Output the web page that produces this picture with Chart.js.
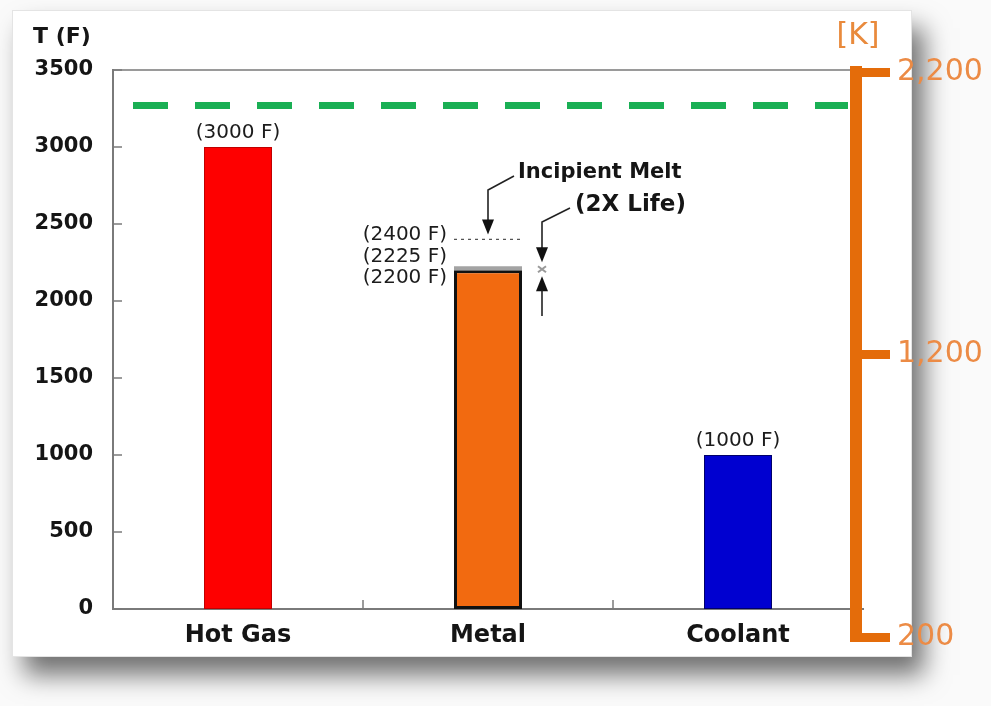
<!DOCTYPE html>
<html>
<head>
<meta charset="utf-8">
<script src="https://cdn.jsdelivr.net/npm/chart.js@4.4.1/dist/chart.umd.min.js"></script>
<style>
  html, body { margin:0; padding:0; background:#fafafa; }
  #wrap { position:relative; width:991px; height:706px; overflow:hidden; }
  #card {
    position:absolute; left:12px; top:10px; width:900px; height:647px;
    background:#fff; border:1px solid #e4e4e4; box-sizing:border-box;
    box-shadow:12px 18px 24px rgba(0,0,0,0.55);
  }
  canvas { position:absolute; left:0; top:0; }
</style>
</head>
<body>
<div id="wrap">
  <div id="card"></div>
  <canvas id="chart" width="991" height="706"></canvas>
  <canvas id="kchart" width="991" height="706"></canvas>
</div>
<script>
// ================= DATA =================
const categories = ["Hot Gas", "Metal", "Coolant"];
const tempF = [3000, 2200, 1000];          // bar heights (F)
const coatingF = [0, 25, 0];               // grey cap on metal: 2200 -> 2225
const barLabels = ["(3000 F)", "", "(1000 F)"];
const meltF = 2400;                        // incipient melt
const limitF = 3270;                       // green dashed line
const yTicksF = { min: 0, max: 3500, step: 500 };
const kelvinTicks = { min: 200, max: 2200, step: 1000 };

const barColors = ["#fe0000", "#f26a10", "#0000d0"];
const barBorders = ["#c00000", "#111111", "#00006a"];
const FONT = "'DejaVu Sans', sans-serif";
const INK = "#151515";
const ORANGE = "#e46c0a";

// ================= HELPERS =================
function line(ctx, pts){
  ctx.beginPath();
  ctx.moveTo(pts[0][0], pts[0][1]);
  pts.slice(1).forEach(p => ctx.lineTo(p[0], p[1]));
  ctx.stroke();
}
function head(ctx, x, tip, dir){   // dir 1 = points down, -1 = points up
  const h = 15, w = 6;
  ctx.beginPath();
  ctx.moveTo(x, tip);
  ctx.lineTo(x - w, tip - dir*h);
  ctx.lineTo(x + w, tip - dir*h);
  ctx.closePath();
  ctx.fill();
}
function text(ctx, str, x, y, font, color, align){
  ctx.font = font;
  ctx.fillStyle = color;
  ctx.textAlign = align || "center";
  ctx.textBaseline = "middle";
  ctx.fillText(str, x, y);
}

// ================= ANNOTATIONS =================
const markup = {
  id: "markup",
  afterDatasetsDraw(chart){
    const {ctx, chartArea: a, scales: {x, y}} = chart;
    const bars = chart.getDatasetMeta(0).data;
    ctx.save();

    // inner tick marks
    ctx.strokeStyle = "#7a7a7a"; ctx.lineWidth = 1.5;
    y.ticks.forEach(t => {
      const py = y.getPixelForValue(t.value);
      line(ctx, [[a.left, py], [a.left + 9, py]]);
    });
    for(let i = 1; i < categories.length; i++){
      const px = (x.getPixelForValue(i-1) + x.getPixelForValue(i)) / 2;
      line(ctx, [[px, a.bottom], [px, a.bottom - 9]]);
    }

    // green limit line
    const gy = y.getPixelForValue(limitF);
    ctx.strokeStyle = "#1aaf54"; ctx.lineWidth = 7;
    ctx.setLineDash([35, 27]);
    line(ctx, [[a.left + 20, gy], [a.right - 15, gy]]);
    ctx.setLineDash([]);

    // value labels above bars
    bars.forEach((b, i) => {
      if(barLabels[i]) text(ctx, barLabels[i], b.x, b.y - 14, "20px " + FONT, "#1c1c1c");
    });

    // metal details
    const m = bars[1];
    const left = m.x - m.width/2, right = m.x + m.width/2;
    const yMelt = y.getPixelForValue(meltF);
    const yCoat = y.getPixelForValue(tempF[1] + coatingF[1]);
    const yMetal = y.getPixelForValue(tempF[1]);

    ctx.strokeStyle = "#555"; ctx.lineWidth = 1.3;
    ctx.setLineDash([3, 4]);
    line(ctx, [[left, yMelt], [right, yMelt]]);
    ctx.setLineDash([]);

    text(ctx, "(" + meltF + " F)", left - 7, yMelt - 5, "20px " + FONT, "#1c1c1c", "right");
    text(ctx, "(" + (tempF[1] + coatingF[1]) + " F)", left - 7, yCoat - 10, "20px " + FONT, "#1c1c1c", "right");
    text(ctx, "(" + tempF[1] + " F)", left - 7, yMetal + 8, "20px " + FONT, "#1c1c1c", "right");

    text(ctx, "Incipient Melt", 518, 173, "bold 21px " + FONT, INK, "left");
    text(ctx, "(2X Life)", 575, 205, "bold 23px " + FONT, INK, "left");

    ctx.strokeStyle = "#222"; ctx.fillStyle = "#111"; ctx.lineWidth = 1.6;
    // arrow to melt line
    const tip1 = yMelt - 5;
    line(ctx, [[514, 176], [m.x, 190], [m.x, tip1 - 14]]);
    head(ctx, m.x, tip1, 1);
    // double arrow at coating
    const x2 = right + 20;
    const tipTop = yCoat - 4, tipBot = yMetal + 6;
    line(ctx, [[570, 208], [x2, 222], [x2, tipTop - 14]]);
    head(ctx, x2, tipTop, 1);
    head(ctx, x2, tipBot, -1);
    line(ctx, [[x2, tipBot + 14], [x2, 316]]);
    ctx.strokeStyle = "#999"; ctx.lineWidth = 2;
    const cy = (tipTop + tipBot) / 2;
    line(ctx, [[x2 - 4, cy - 3], [x2 + 4, cy + 3]]);
    line(ctx, [[x2 - 4, cy + 3], [x2 + 4, cy - 3]]);

    // axis title
    text(ctx, "T (F)", 62, 37, "bold 22px " + FONT, INK);
    ctx.restore();
  }
};

new Chart(document.getElementById("chart"), {
  type: "bar",
  data: {
    labels: categories,
    datasets: [
      { data: tempF, backgroundColor: barColors, borderColor: barBorders,
        borderWidth: [1, 3, 1], borderSkipped: false,
        barPercentage: 0.272, categoryPercentage: 1 },
      { data: coatingF, backgroundColor: "#a3a3a3", borderWidth: 0,
        barPercentage: 0.272, categoryPercentage: 1 }
    ]
  },
  options: {
    responsive: false, animation: false, devicePixelRatio: 1,
    layout: { padding: { top: 70, right: 128, left: 0, bottom: 0 } },
    plugins: { legend: { display: false }, tooltip: { enabled: false } },
    scales: {
      x: {
        stacked: true,
        grid: { display: false, drawTicks: false },
        border: { display: true, color: "#7a7a7a", width: 2 },
        ticks: { color: INK, padding: 12, font: { family: FONT, size: 24, weight: "bold" } },
        afterFit: s => { s.height = 97; }
      },
      x2: {
        type: "category", position: "top",
        grid: { display: false, drawTicks: false },
        border: { display: true, color: "#9a9a9a", width: 2 },
        ticks: { display: false },
        afterFit: s => { s.height = 0; }
      },
      y: {
        stacked: true,
        min: yTicksF.min, max: yTicksF.max,
        grid: { display: false, drawTicks: false },
        border: { display: true, color: "#7a7a7a", width: 2 },
        ticks: { stepSize: yTicksF.step, color: INK, padding: 20,
                 callback: v => String(v),
                 font: { family: FONT, size: 21, weight: "bold" } },
        afterFit: s => { s.width = 113; }
      }
    }
  },
  plugins: [markup]
});

// ================= KELVIN BRACKET =================
const kTitle = {
  id: "kTitle",
  afterDraw(chart){
    const {ctx, chartArea: a} = chart;
    ctx.save();
    text(ctx, "[K]", a.right + 2, a.top - 36, "30px " + FONT, "#e98a3c");
    ctx.restore();
  }
};

new Chart(document.getElementById("kchart"), {
  type: "bar",
  data: { labels: [""], datasets: [] },
  options: {
    responsive: false, animation: false, devicePixelRatio: 1,
    layout: { padding: { top: 72, right: 0, left: 0, bottom: 69 } },
    plugins: { legend: { display: false }, tooltip: { enabled: false } },
    scales: {
      x: { display: false },
      y: {
        position: "right",
        min: kelvinTicks.min, max: kelvinTicks.max,
        grid: { display: true, drawOnChartArea: false, drawTicks: true,
                tickLength: 34, color: ORANGE, lineWidth: 9 },
        border: { display: true, color: ORANGE, width: 12 },
        ticks: { stepSize: kelvinTicks.step, color: "#ec8b45", padding: 7,
                 font: { family: FONT, size: 30 } },
        afterFit: s => { s.width = 135; }
      }
    }
  },
  plugins: [kTitle]
});
</script>
</body>
</html>
